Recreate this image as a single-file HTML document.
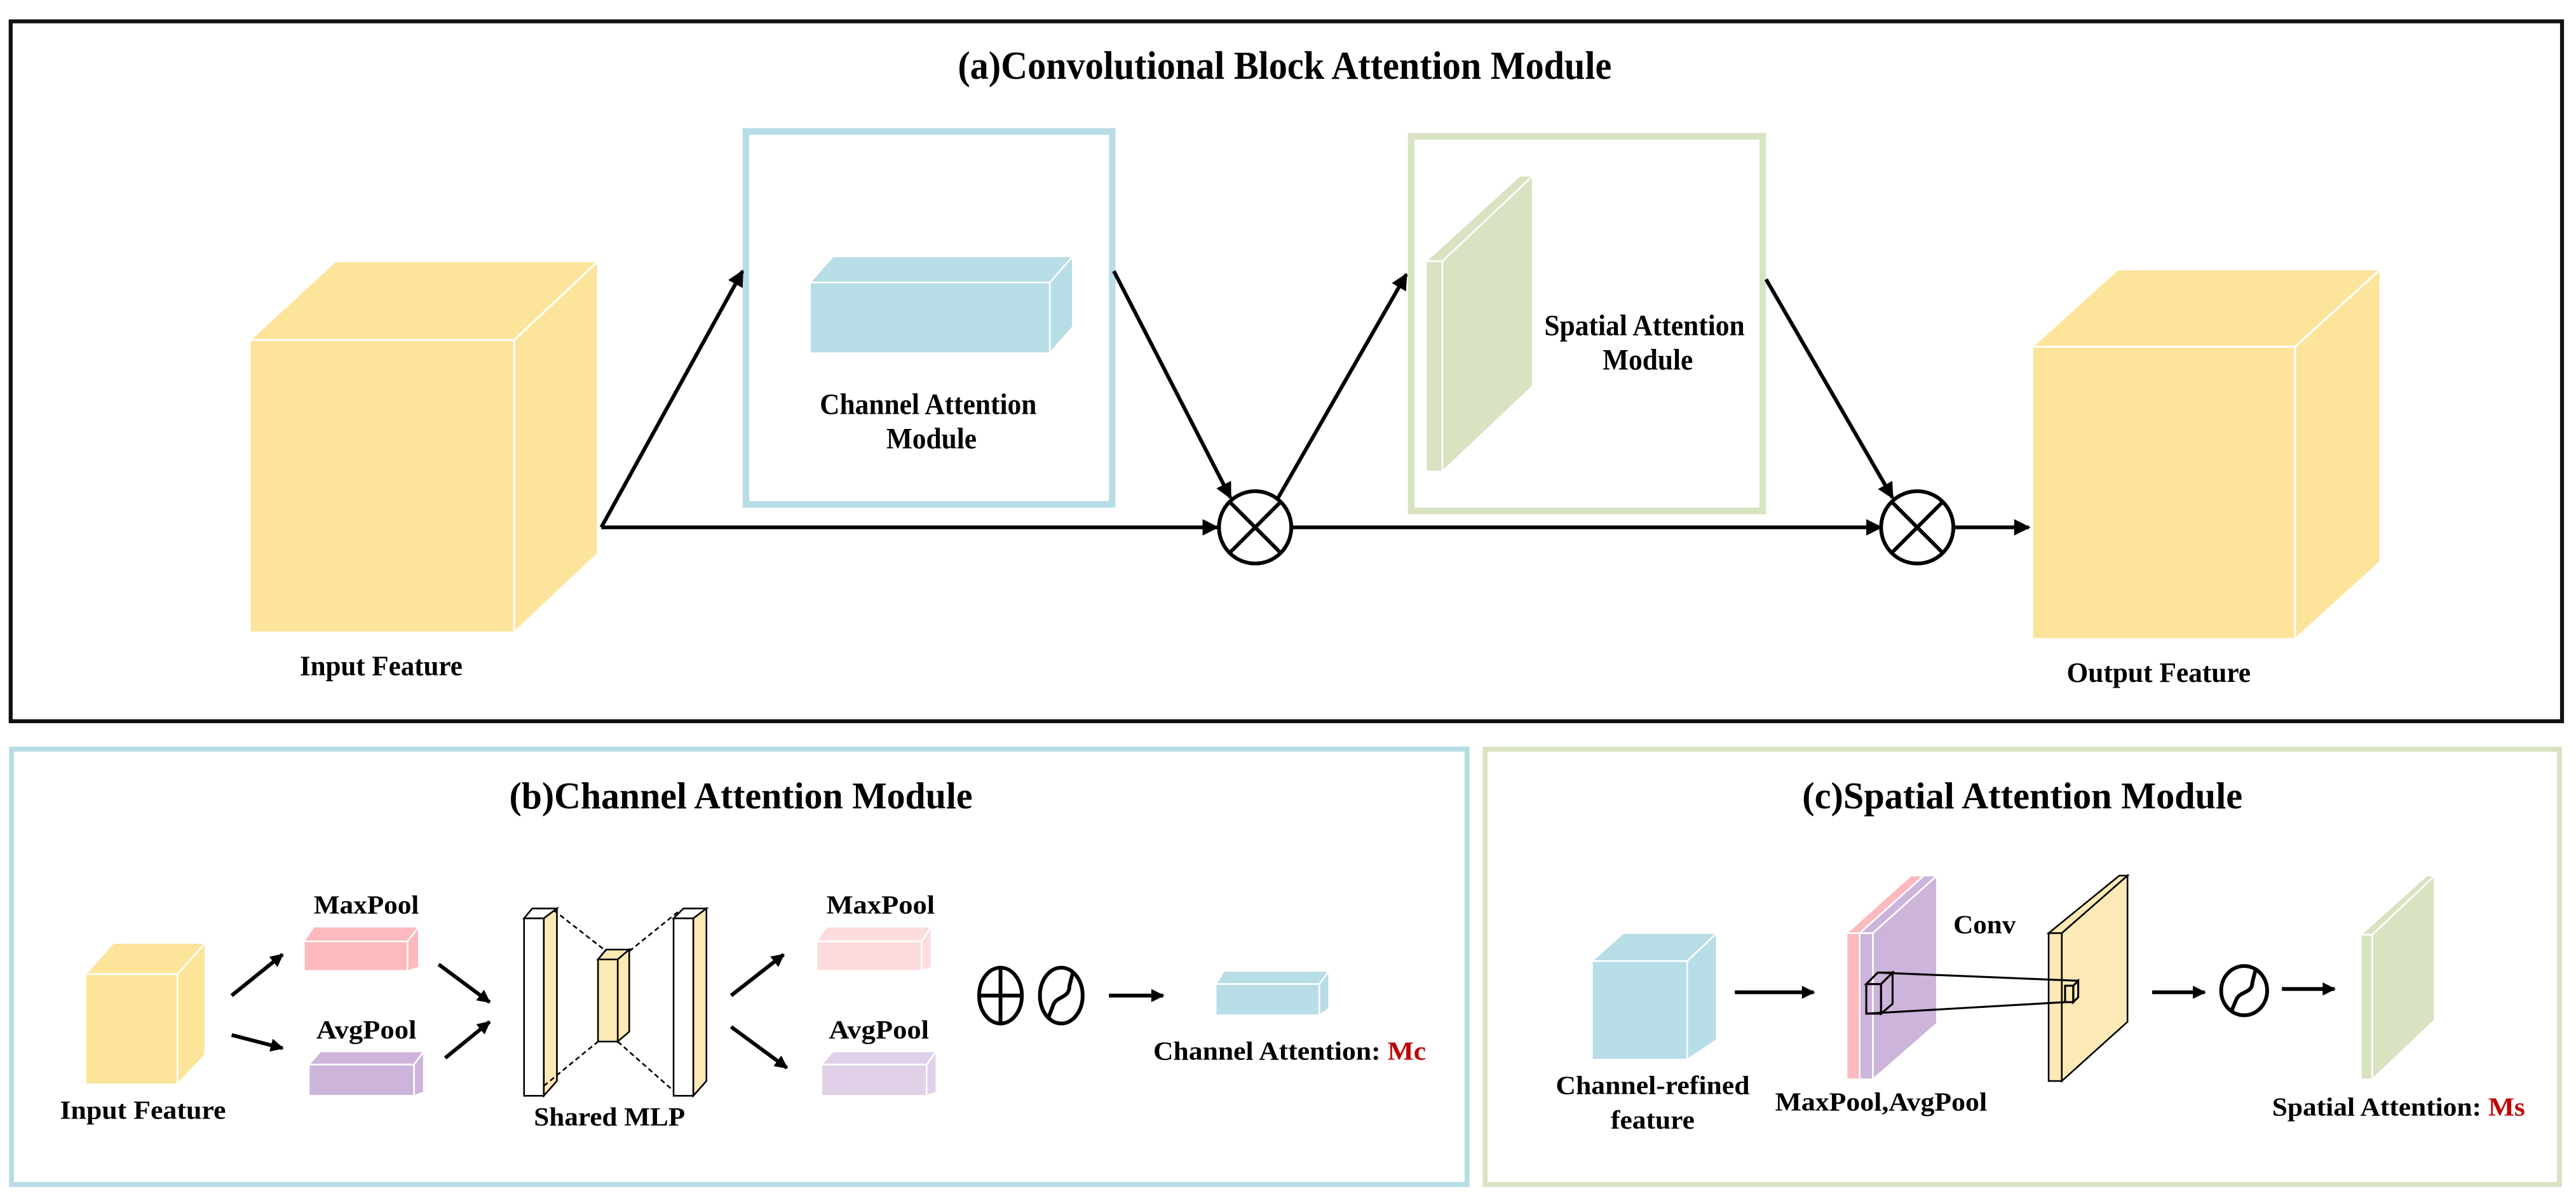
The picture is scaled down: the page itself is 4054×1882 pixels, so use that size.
<!DOCTYPE html>
<html><head><meta charset="utf-8"><style>html,body{margin:0;padding:0;background:#fff}svg{display:block}text{font-family:"Liberation Serif",serif;font-weight:bold;fill:#000}</style></head>
<body>
<svg width="4054" height="1882" viewBox="0 0 1568 728" preserveAspectRatio="none" xmlns="http://www.w3.org/2000/svg">
<defs>
<marker id="ah" viewBox="0 0 10 10" refX="9" refY="5" markerWidth="9" markerHeight="8" markerUnits="userSpaceOnUse" orient="auto"><path d="M0,0 L10,5 L0,10 z" fill="#000"/></marker>
<marker id="ah2" viewBox="0 0 10 10" refX="9" refY="5" markerWidth="11" markerHeight="10" markerUnits="userSpaceOnUse" orient="auto"><path d="M0,0 L10,5 L0,10 z" fill="#000"/></marker>
</defs>
<rect width="1568" height="728" fill="#fff"/>
<rect x="6.5" y="13" width="1553" height="426" fill="none" stroke="#111" stroke-width="2.4"/>
<text x="782" y="48" font-size="24" text-anchor="middle" textLength="398" lengthAdjust="spacingAndGlyphs">(a)Convolutional Block Attention Module</text>

<g fill="#fde49b" stroke="#fff" stroke-width="1.2">
<polygon points="152,207 204,159 364,159 313,207"/>
<polygon points="313,207 364,159 364,337 313,385"/>
<rect x="152" y="207" width="161" height="178"/>
</g>
<text x="232" y="411" font-size="17" text-anchor="middle" textLength="99" lengthAdjust="spacingAndGlyphs">Input Feature</text>

<rect x="454" y="80" width="223" height="227" fill="none" stroke="#b7dde6" stroke-width="4"/>
<g fill="#b7dde6" stroke="#fff" stroke-width="1">
<polygon points="493,172 507,156 653,156 639,172"/>
<polygon points="639,172 653,156 653,199 639,215"/>
<rect x="493" y="172" width="146" height="43"/>
</g>
<text x="565" y="252" font-size="18" text-anchor="middle" textLength="132" lengthAdjust="spacingAndGlyphs">Channel Attention</text>
<text x="567" y="273" font-size="18" text-anchor="middle" textLength="55" lengthAdjust="spacingAndGlyphs">Module</text>

<rect x="859" y="83" width="214" height="228" fill="none" stroke="#d7e3c1" stroke-width="4"/>
<g fill="#d7e3c1" stroke="#fff" stroke-width="1">
<polygon points="868,159 878,159 933,107 925,107"/>
<polygon points="878,159 933,107 933,235 878,287"/>
<rect x="868" y="159" width="10" height="128"/>
</g>
<text x="1001" y="204" font-size="18" text-anchor="middle" textLength="122" lengthAdjust="spacingAndGlyphs">Spatial Attention</text>
<text x="1003" y="225" font-size="18" text-anchor="middle" textLength="55" lengthAdjust="spacingAndGlyphs">Module</text>

<g fill="#fde49b" stroke="#fff" stroke-width="1.2">
<polygon points="1237,211 1289,164 1449,164 1397,211"/>
<polygon points="1397,211 1449,164 1449,342 1397,389"/>
<rect x="1237" y="211" width="160" height="178"/>
</g>
<text x="1314" y="415" font-size="17" text-anchor="middle" textLength="112" lengthAdjust="spacingAndGlyphs">Output Feature</text>

<g stroke="#000" stroke-width="2.3" fill="none">
<line x1="366" y1="321" x2="741" y2="321" marker-end="url(#ah2)"/>
<line x1="366" y1="321" x2="452" y2="165" marker-end="url(#ah2)"/>
<line x1="678" y1="165" x2="749" y2="303" marker-end="url(#ah2)"/>
<line x1="778" y1="303" x2="856" y2="167" marker-end="url(#ah2)"/>
<line x1="786" y1="321" x2="1145" y2="321" marker-end="url(#ah2)"/>
<line x1="1075" y1="170" x2="1152" y2="303" marker-end="url(#ah2)"/>
<line x1="1189" y1="321" x2="1235" y2="321" marker-end="url(#ah2)"/>
<circle cx="764" cy="321" r="22"/>
<line x1="748.4" y1="305.4" x2="779.6" y2="336.6"/><line x1="779.6" y1="305.4" x2="748.4" y2="336.6"/>
<circle cx="1167" cy="321" r="22"/>
<line x1="1151.4" y1="305.4" x2="1182.6" y2="336.6"/><line x1="1182.6" y1="305.4" x2="1151.4" y2="336.6"/>
</g>

<rect x="7" y="456" width="886" height="265" fill="none" stroke="#b7dde6" stroke-width="3"/>
<text x="451" y="492" font-size="23" text-anchor="middle" textLength="282" lengthAdjust="spacingAndGlyphs">(b)Channel Attention Module</text>
<g stroke="#fff" stroke-width="1">
<g fill="#fde49b">
<polygon points="52,593 69,574 125,574 108,593"/><polygon points="108,593 125,574 125,642 108,660"/><rect x="52" y="593" width="56" height="67"/></g>
<g fill="#fdb9bd">
<polygon points="185,573 191,564 255,564 248,573"/><polygon points="248,573 255,564 255,589 248,591"/><rect x="185" y="573" width="63" height="18"/></g>
<g fill="#cdb4da">
<polygon points="188,648 195,640 258,640 252,648"/><polygon points="252,648 258,640 258,665 252,667"/><rect x="188" y="648" width="64" height="19"/></g>
<g fill="#fddcdd">
<polygon points="497,573 503,564 567,564 561,573"/><polygon points="561,573 567,564 567,589 561,591"/><rect x="497" y="573" width="64" height="18"/></g>
<g fill="#e0d1e8">
<polygon points="500,648 507,640 570,640 564,648"/><polygon points="564,648 570,640 570,665 564,667"/><rect x="500" y="648" width="64" height="19"/></g>
<g fill="#b7dde6">
<polygon points="740,599 745,591 809,591 803,599"/><polygon points="803,599 809,591 809,614 803,618"/><rect x="740" y="599" width="63" height="19"/></g>
</g>
<text x="223" y="556" font-size="16" text-anchor="middle" textLength="64" lengthAdjust="spacingAndGlyphs">MaxPool</text>
<text x="223" y="632" font-size="16" text-anchor="middle" textLength="61" lengthAdjust="spacingAndGlyphs">AvgPool</text>
<text x="536" y="556" font-size="16" text-anchor="middle" textLength="66" lengthAdjust="spacingAndGlyphs">MaxPool</text>
<text x="535" y="632" font-size="16" text-anchor="middle" textLength="61" lengthAdjust="spacingAndGlyphs">AvgPool</text>
<text x="87" y="681" font-size="16" text-anchor="middle" textLength="101" lengthAdjust="spacingAndGlyphs">Input Feature</text>
<text x="371" y="685" font-size="16" text-anchor="middle" textLength="92" lengthAdjust="spacingAndGlyphs">Shared MLP</text>
<text x="785" y="645" font-size="16" text-anchor="middle" textLength="166" lengthAdjust="spacingAndGlyphs">Channel Attention: <tspan fill="#c00000">Mc</tspan></text>

<g stroke="#000" stroke-width="1">
<polygon points="319,559 324,553 339,553 331,559" fill="#fff"/>
<polygon points="331,559 339,553 339,658 331,667" fill="#fde9b5"/>
<rect x="319" y="559" width="12" height="108" fill="#fff"/>
<polygon points="364,584 369,578 383,578 376,584" fill="#fde9b5"/>
<polygon points="376,584 383,578 383,628 376,634" fill="#fde9b5"/>
<rect x="364" y="584" width="12" height="50" fill="#fde9b5"/>
<polygon points="410,559 416,553 430,553 422,559" fill="#fff"/>
<polygon points="422,559 430,553 430,658 422,667" fill="#fde9b5"/>
<rect x="410" y="559" width="12" height="108" fill="#fff"/>
</g>
<g stroke="#000" stroke-width="1" stroke-dasharray="3,2" fill="none">
<line x1="337" y1="554" x2="369" y2="579"/><line x1="331" y1="661" x2="364" y2="634"/>
<line x1="383" y1="579" x2="414" y2="554"/><line x1="376" y1="634" x2="410" y2="664"/>
</g>
<g stroke="#000" stroke-width="2.3" fill="none">
<line x1="141" y1="606" x2="172" y2="581" marker-end="url(#ah)"/>
<line x1="141" y1="630" x2="172" y2="638" marker-end="url(#ah)"/>
<line x1="267" y1="587" x2="298" y2="610" marker-end="url(#ah)"/>
<line x1="271" y1="644" x2="298" y2="622" marker-end="url(#ah)"/>
<line x1="445" y1="606" x2="477" y2="581" marker-end="url(#ah)"/>
<line x1="445" y1="625" x2="479" y2="650" marker-end="url(#ah)"/>
<line x1="675" y1="606" x2="708" y2="606" marker-end="url(#ah)"/>
<ellipse cx="609" cy="606" rx="13" ry="17"/>
<line x1="596" y1="606" x2="622" y2="606"/><line x1="609" y1="589" x2="609" y2="623"/>
<ellipse cx="646" cy="606" rx="13" ry="17"/>
<path d="M638,620 L641,612 C643,606 651,608 651,600 L653,592"/>
</g>

<rect x="904" y="456" width="654" height="265" fill="none" stroke="#d7e3c1" stroke-width="3"/>
<text x="1231" y="492" font-size="23" text-anchor="middle" textLength="268" lengthAdjust="spacingAndGlyphs">(c)Spatial Attention Module</text>
<g fill="#b7dde6" stroke="#fff" stroke-width="1">
<polygon points="969,585 988,568 1045,568 1027,585"/><polygon points="1027,585 1045,568 1045,633 1027,645"/><rect x="969" y="585" width="58" height="60"/>
</g>
<g stroke="#fff" stroke-width="1">
<polygon points="1124,568 1132,568 1171,533 1163,533" fill="#fdb9bd"/>
<rect x="1124" y="568" width="8" height="89" fill="#fdb9bd"/>
<polygon points="1132,568 1140,568 1179,533 1171,533" fill="#cdb4da"/>
<polygon points="1140,568 1179,533 1179,623 1140,657" fill="#cdb4da"/>
<rect x="1132" y="568" width="8" height="89" fill="#cdb4da"/>
</g>
<g stroke="#000" stroke-width="1" fill="#fde9b5">
<polygon points="1247,568 1255,568 1295,533 1290,533"/>
<polygon points="1255,568 1295,533 1295,622 1255,658"/>
<rect x="1247" y="568" width="8" height="90"/>
</g>
<g stroke="#000" stroke-width="1.2" fill="none">
<rect x="1136" y="599" width="9" height="18"/>
<polygon points="1136,599 1143,592 1152,592 1145,599"/>
<polygon points="1145,599 1152,592 1152,611 1145,617"/>
<rect x="1257" y="600" width="5" height="10"/>
<polygon points="1262,600 1265,597 1265,607 1262,610"/>
<line x1="1143" y1="592" x2="1265" y2="597"/>
<line x1="1136" y1="617" x2="1257" y2="610"/>
</g>
<text x="1208" y="568" font-size="16" text-anchor="middle" textLength="38" lengthAdjust="spacingAndGlyphs">Conv</text>
<g fill="#d7e3c1" stroke="#fff" stroke-width="1">
<polygon points="1437,569 1444,569 1482,533 1477,533"/>
<polygon points="1444,569 1482,533 1482,621 1444,657"/>
<rect x="1437" y="569" width="7" height="88"/>
</g>
<g stroke="#000" stroke-width="2.3" fill="none">
<line x1="1056" y1="604" x2="1104" y2="604" marker-end="url(#ah)"/>
<line x1="1310" y1="604" x2="1342" y2="604" marker-end="url(#ah)"/>
<line x1="1389" y1="602" x2="1421" y2="602" marker-end="url(#ah)"/>
<ellipse cx="1366" cy="603" rx="14" ry="15"/>
<path d="M1358,616 L1361,609 C1363,603 1371,605 1371,598 L1373,590"/>
</g>
<text x="1006" y="666" font-size="16" text-anchor="middle" textLength="118" lengthAdjust="spacingAndGlyphs">Channel-refined</text>
<text x="1006" y="687" font-size="16" text-anchor="middle" textLength="51" lengthAdjust="spacingAndGlyphs">feature</text>
<text x="1145" y="676" font-size="16" text-anchor="middle" textLength="129" lengthAdjust="spacingAndGlyphs">MaxPool,AvgPool</text>
<text x="1460" y="679" font-size="16" text-anchor="middle" textLength="154" lengthAdjust="spacingAndGlyphs">Spatial Attention: <tspan fill="#c00000">Ms</tspan></text>
</svg>
</body></html>
